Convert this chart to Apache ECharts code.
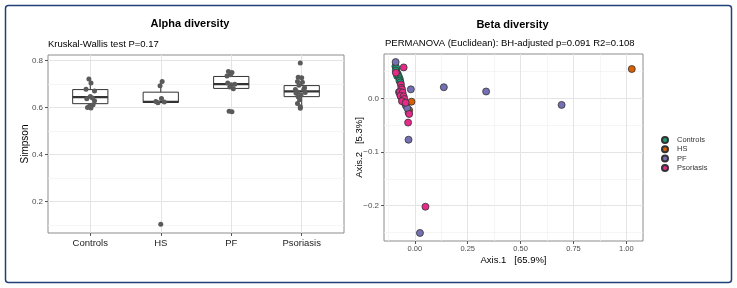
<!DOCTYPE html>
<html>
<head>
<meta charset="utf-8">
<title>Alpha / Beta diversity</title>
<script src="https://cdn.jsdelivr.net/npm/echarts@6/dist/echarts.min.js"></script>
<style>
  html, body { margin: 0; padding: 0; background: #fff; }
  #chart { width: 737px; height: 288px; }
</style>
</head>
<body>
<div id="chart"></div>
<script>
/**
 * Alpha diversity (Simpson boxplots) + Beta diversity (PCoA scatter)
 */

// ---- data ----

const groups = ['Controls', 'HS', 'PF', 'Psoriasis'];
const groupColors = ['#1B9E77', '#D95F02', '#7570B3', '#E7298A'];

// boxplot stats per group: lower whisker, Q1, median, Q3, upper whisker
const boxLow = [0.598, 0.621, 0.681, 0.597];
const boxQ1 = [0.617, 0.622, 0.682, 0.647];
const boxMedian = [0.645, 0.625, 0.700, 0.669];
const boxQ3 = [0.677, 0.666, 0.733, 0.694];
const boxHigh = [0.722, 0.712, 0.754, 0.730];

// Simpson values per group, and the horizontal jitter seen on each point (category units)
const simpsonControls = [0.722, 0.705, 0.678, 0.671, 0.648, 0.641, 0.638, 0.629, 0.612, 0.607, 0.601, 0.598];
const jitterControls = [-0.02, 0.01, -0.06, 0.06, 0.0, 0.03, -0.05, 0.06, 0.04, -0.01, -0.04, 0.01];
const simpsonHS = [0.712, 0.693, 0.639, 0.626, 0.624, 0.621, 0.103];
const jitterHS = [0.02, -0.01, 0.01, -0.07, 0.05, -0.04, 0.0];
const simpsonPF = [0.754, 0.750, 0.740, 0.735, 0.705, 0.700, 0.698, 0.688, 0.681, 0.585, 0.582];
const jitterPF = [-0.04, 0.01, -0.01, -0.06, -0.05, 0.05, 0.0, -0.02, 0.03, -0.03, 0.01];
const simpsonPsoriasis = [0.790, 0.730, 0.727, 0.712, 0.708, 0.695, 0.685, 0.678, 0.677, 0.667, 0.665, 0.661, 0.654, 0.646, 0.634, 0.618, 0.604, 0.597];
const jitterPsoriasis = [-0.02, -0.05, 0.0, -0.06, 0.01, -0.04, 0.04, 0.03, -0.09, -0.06, 0.05, -0.08, -0.01, -0.05, -0.03, -0.06, -0.02, -0.02];

// PCoA coordinates [Axis.1, Axis.2]
const pcoaControls = [
  [-0.092, 0.060], [-0.088, 0.057], [-0.086, 0.050], [-0.090, 0.052], [-0.080, 0.045],
  [-0.082, 0.044], [-0.084, 0.042], [-0.075, 0.040], [-0.071, 0.036], [-0.073, 0.033], [-0.068, 0.030]
];
const pcoaHS = [
  [1.026, 0.055], [-0.070, 0.008], [-0.066, 0.004], [-0.060, 0.000], [-0.016, -0.006],
  [-0.027, -0.022], [-0.030, -0.026]
];
const pcoaPF = [
  [-0.091, 0.068], [-0.075, 0.012], [-0.019, 0.017], [0.137, 0.021], [0.337, 0.013],
  [0.694, -0.012], [-0.048, -0.008], [-0.043, -0.013], [-0.036, -0.018], [-0.030, -0.077], [0.024, -0.251]
];
const pcoaPsoriasis = [
  [-0.053, 0.058], [-0.090, 0.048], [-0.066, 0.026], [-0.064, 0.020], [-0.061, 0.017],
  [-0.071, 0.012], [-0.058, 0.011], [-0.068, 0.005], [-0.053, 0.004], [-0.050, -0.001],
  [-0.061, -0.005], [-0.044, -0.008], [-0.027, -0.029], [-0.032, -0.045], [0.050, -0.202]
];

// axis ticks
const simpsonTicks = [0.2, 0.4, 0.6, 0.8];
const simpsonMinor = [0.1, 0.3, 0.5, 0.7];
const axis1Ticks = [0, 0.25, 0.5, 0.75, 1.0];
const axis1Minor = [-0.125, 0.125, 0.375, 0.625, 0.875];
const axis2Ticks = [-0.2, -0.1, 0.0];
const axis2Minor = [-0.25, -0.15, -0.05, 0.05];

(function() {
  'use strict';

  const FONT = '"Liberation Sans", Arial, sans-serif';
  const GRID_COLOR = '#e4e4e4';
  const MINOR_COLOR = '#f0f0f0';

  document.addEventListener('DOMContentLoaded', function() {
    const chart = echarts.init(document.getElementById('chart'), null, { renderer: 'canvas' });
    chart.setOption(buildOption());
  });

  /**
   * jittered points of the boxplot panel
   */
  function jitterPoints() {
    const values = [simpsonControls, simpsonHS, simpsonPF, simpsonPsoriasis];
    const jitters = [jitterControls, jitterHS, jitterPF, jitterPsoriasis];
    const pts = [];
    values.forEach(function(list, i) {
      list.forEach(function(v, k) {
        pts.push([i + 1 + jitters[i][k], v]);
      });
    });
    return pts;
  }

  /**
   * one box with whiskers, drawn through the axis scales
   */
  function renderBox(params, api) {
    const x = api.value(0);
    const lo = api.coord([x, api.value(1)]);
    const q1 = api.coord([x, api.value(2)]);
    const med = api.coord([x, api.value(3)]);
    const q3 = api.coord([x, api.value(4)]);
    const hi = api.coord([x, api.value(5)]);
    const left = api.coord([x - 0.25, api.value(3)])[0];
    const right = api.coord([x + 0.25, api.value(3)])[0];
    const stroke = { stroke: '#333', lineWidth: 1, fill: null };

    return {
      type: 'group',
      children: [
        { type: 'line', shape: { x1: lo[0], y1: lo[1], x2: q1[0], y2: q1[1] }, style: stroke },
        { type: 'line', shape: { x1: q3[0], y1: q3[1], x2: hi[0], y2: hi[1] }, style: stroke },
        {
          type: 'rect',
          shape: { x: left, y: q3[1], width: right - left, height: q1[1] - q3[1] },
          style: { fill: '#fff', stroke: '#333', lineWidth: 1 }
        },
        {
          type: 'line',
          shape: { x1: left, y1: med[1], x2: right, y2: med[1] },
          style: { stroke: '#333', lineWidth: 2.2 }
        }
      ]
    };
  }

  // hidden axis that only contributes minor grid lines
  function minorAxis(gridIndex, min, max, values) {
    return {
      type: 'value', gridIndex: gridIndex, min: min, max: max,
      axisLine: { show: false, onZero: false },
      axisLabel: { show: false },
      axisTick: { show: false, customValues: values },
      splitLine: { show: true, lineStyle: { color: MINOR_COLOR, width: 0.7 } }
    };
  }

  function buildOption() {
    const tickLabel = { fontFamily: FONT, fontSize: 8, color: '#4d4d4d' };

    const boxData = groups.map(function(g, i) {
      return [i + 1, boxLow[i], boxQ1[i], boxMedian[i], boxQ3[i], boxHigh[i]];
    });

    const pcoaSets = [pcoaControls, pcoaHS, pcoaPF, pcoaPsoriasis];

    return {
      animation: false,
      backgroundColor: '#fff',
      textStyle: { fontFamily: FONT },
      grid: [
        { left: 48, top: 55, width: 296, height: 178, show: true, backgroundColor: 'transparent', borderColor: '#8c8c8c', borderWidth: 1 },
        { left: 384, top: 54, width: 259, height: 187, show: true, backgroundColor: 'transparent', borderColor: '#8c8c8c', borderWidth: 1 }
      ],
      xAxis: [
        {
          type: 'value', gridIndex: 0, min: 0.4, max: 4.6,
          axisLine: { show: false, onZero: false },
          axisTick: { show: true, length: 3, customValues: [1, 2, 3, 4], lineStyle: { color: '#555' } },
          axisLabel: {
            customValues: [1, 2, 3, 4], margin: 5,
            fontFamily: FONT, fontSize: 9.5, color: '#222',
            formatter: function(v) { return groups[Math.round(v) - 1]; }
          },
          splitLine: { show: true, lineStyle: { color: GRID_COLOR, width: 1 } }
        },
        {
          type: 'value', gridIndex: 1, min: -0.146, max: 1.079,
          name: 'Axis.1   [65.9%]', nameLocation: 'middle', nameGap: 14, nameMoveOverlap: false,
          nameTextStyle: { fontFamily: FONT, fontSize: 9.5, color: '#000' },
          axisLine: { show: false, onZero: false },
          axisTick: { show: true, length: 3, customValues: axis1Ticks, lineStyle: { color: '#555' } },
          axisLabel: Object.assign({
            customValues: axis1Ticks, margin: 4,
            formatter: function(v) { return v.toFixed(2); }
          }, tickLabel, { fontSize: 7.5 }),
          splitLine: { show: true, lineStyle: { color: GRID_COLOR, width: 1 } }
        },
        minorAxis(1, -0.146, 1.079, axis1Minor)
      ],
      yAxis: [
        {
          type: 'value', gridIndex: 0, min: 0.0655, max: 0.8245,
          name: 'Simpson', nameLocation: 'middle', nameGap: 18, nameMoveOverlap: false,
          nameTextStyle: { fontFamily: FONT, fontSize: 10, color: '#000' },
          axisLine: { show: false, onZero: false },
          axisTick: { show: true, length: 3, customValues: simpsonTicks, lineStyle: { color: '#555' } },
          axisLabel: Object.assign({
            customValues: simpsonTicks, margin: 5,
            formatter: function(v) { return v.toFixed(1); }
          }, tickLabel),
          splitLine: { show: true, lineStyle: { color: GRID_COLOR, width: 1 } }
        },
        {
          type: 'value', gridIndex: 1, min: -0.266, max: 0.083,
          name: 'Axis.2   [5.3%]', nameLocation: 'middle', nameGap: 20, nameMoveOverlap: false,
          nameTextStyle: { fontFamily: FONT, fontSize: 9.5, color: '#000' },
          axisLine: { show: false, onZero: false },
          axisTick: { show: true, length: 3, customValues: axis2Ticks, lineStyle: { color: '#555' } },
          axisLabel: Object.assign({
            customValues: axis2Ticks, margin: 5,
            formatter: function(v) { return v.toFixed(1).replace('-', '\u2212'); }
          }, tickLabel),
          splitLine: { show: true, lineStyle: { color: GRID_COLOR, width: 1 } }
        },
        minorAxis(0, 0.0655, 0.8245, simpsonMinor),
        minorAxis(1, -0.266, 0.083, axis2Minor)
      ],
      legend: {
        orient: 'vertical', left: 656, top: 131,
        icon: 'circle', itemWidth: 14, itemHeight: 6, itemGap: 1.3,
        textStyle: { fontFamily: FONT, fontSize: 7.5, color: '#333', lineHeight: 8 },
        data: groups
      },
      graphic: [
        {
          type: 'rect', silent: true, z: 100,
          shape: { x: 5.5, y: 5.5, width: 726, height: 277, r: 3 },
          style: { fill: null, stroke: '#22407a', lineWidth: 1.5 }
        },
        {
          type: 'text', x: 190, y: 24,
          style: { text: 'Alpha diversity', font: 'bold 11px ' + FONT, fill: '#000', textAlign: 'center', textVerticalAlign: 'middle' }
        },
        {
          type: 'text', x: 48, y: 44,
          style: { text: 'Kruskal-Wallis test P=0.17', font: '9.5px ' + FONT, fill: '#000', textAlign: 'left', textVerticalAlign: 'middle' }
        },
        {
          type: 'text', x: 512.5, y: 25,
          style: { text: 'Beta diversity', font: 'bold 11px ' + FONT, fill: '#000', textAlign: 'center', textVerticalAlign: 'middle' }
        },
        {
          type: 'text', x: 385, y: 43.5,
          style: { text: 'PERMANOVA (Euclidean): BH-adjusted p=0.091 R2=0.108', font: '9.5px ' + FONT, fill: '#000', textAlign: 'left', textVerticalAlign: 'middle' }
        }
      ],
      series: [
        {
          type: 'custom', name: 'box', xAxisIndex: 0, yAxisIndex: 0,
          renderItem: renderBox, data: boxData,
          encode: { x: 0, y: [1, 2, 3, 4, 5] }, z: 2, silent: true
        },
        {
          type: 'scatter', name: 'simpson', xAxisIndex: 0, yAxisIndex: 0,
          data: jitterPoints(), symbolSize: 5, z: 3, silent: true,
          itemStyle: { color: '#5a5a5a', opacity: 1 }
        }
      ].concat(groups.map(function(g, i) {
        return {
          type: 'scatter', name: g, xAxisIndex: 1, yAxisIndex: 1,
          data: pcoaSets[i], symbolSize: 7, z: 3 + i,
          itemStyle: { color: groupColors[i], borderColor: '#333', borderWidth: 0.8, opacity: 1 }
        };
      }))
    };
  }
})();
</script>
</body>
</html>
